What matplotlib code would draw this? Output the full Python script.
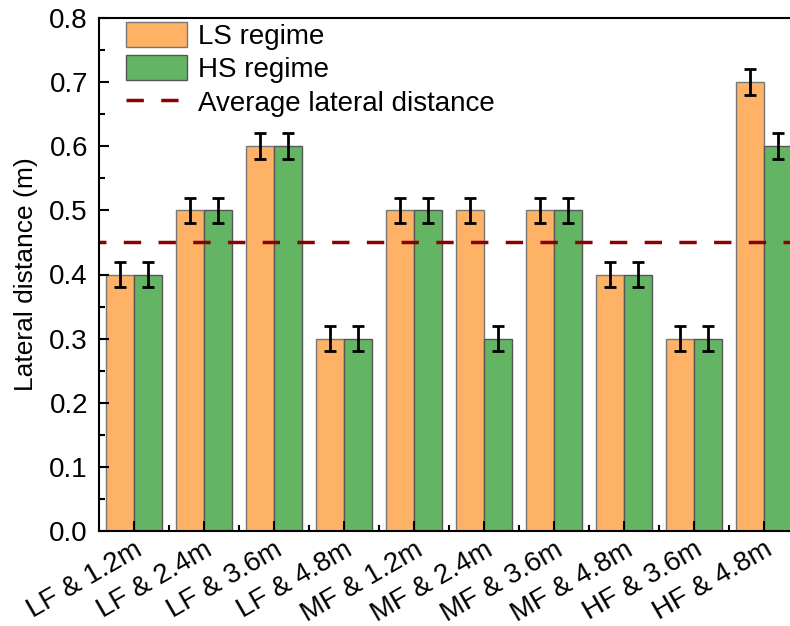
import numpy as np
import matplotlib.pyplot as plt
from matplotlib.lines import Line2D
from matplotlib.ticker import MultipleLocator

plt.rcParams['font.family'] = ['Liberation Sans', 'DejaVu Sans']

groups = ["LF & 1.2m", "LF & 2.4m", "LF & 3.6m", "LF & 4.8m", "MF & 1.2m",
          "MF & 2.4m", "MF & 3.6m", "MF & 4.8m", "HF & 3.6m", "HF & 4.8m"]
ls_vals = [0.4, 0.5, 0.6, 0.3, 0.5, 0.5, 0.5, 0.4, 0.3, 0.7]
hs_vals = [0.4, 0.5, 0.6, 0.3, 0.5, 0.3, 0.5, 0.4, 0.3, 0.6]
ls_err = [0.02] * 10
hs_err = [0.02] * 10
avg_dist = 0.45

fig = plt.figure(figsize=(7.9, 6.26), dpi=100)
ax = fig.add_axes([99/790, 1 - 531/626, 700/790, (531 - 18)/626])

x = np.arange(len(groups))
w = 0.4
err_kw = dict(ecolor='black', elinewidth=2, capsize=4.5, capthick=2)
b1 = ax.bar(x - w/2, ls_vals, w, yerr=ls_err, color='#FEB266', edgecolor='#777777',
            linewidth=1, label='LS regime', error_kw=err_kw)
b2 = ax.bar(x + w/2, hs_vals, w, yerr=hs_err, color='#63B563', edgecolor='#555555',
            linewidth=1, label='HS regime', error_kw=err_kw)
ax.axhline(avg_dist, color='#8B0000', linestyle=(3, (5, 5)), linewidth=2.5)
# legend proxy so the handle shows two whole dashes
ln = Line2D([], [], color='#8B0000', linestyle=(0, (5, 5)), linewidth=2.5)

ax.set_xlim(-0.5, 9.5)
ax.set_ylim(0, 0.8)
ax.yaxis.set_major_locator(MultipleLocator(0.1))
ax.yaxis.set_minor_locator(MultipleLocator(0.05))
ax.set_xticks(x)
ax.set_xticks(x[:-1] + 0.5, minor=True)
ax.set_xticklabels(groups, rotation=30, ha='right', rotation_mode='anchor', fontsize=20)
ax.tick_params(axis='y', labelsize=20, pad=8)
ax.tick_params(axis='x', pad=4)
ax.tick_params(which='major', direction='in', length=7, width=1.5)
ax.tick_params(which='minor', direction='in', length=4, width=1.5)
ax.set_ylabel('Lateral distance (m)', fontsize=19, labelpad=8)
for s in ax.spines.values():
    s.set_linewidth(1.5)

ax.legend([b1, b2, ln], ['LS regime', 'HS regime', 'Average lateral distance'],
          loc='upper left', bbox_to_anchor=(0.034, 0.998), frameon=False, fontsize=20,
          handlelength=2.2, handleheight=1.0, borderpad=0.1, borderaxespad=0,
          labelspacing=0.2, handletextpad=0.4)

fig.savefig('out.png', dpi=100)
